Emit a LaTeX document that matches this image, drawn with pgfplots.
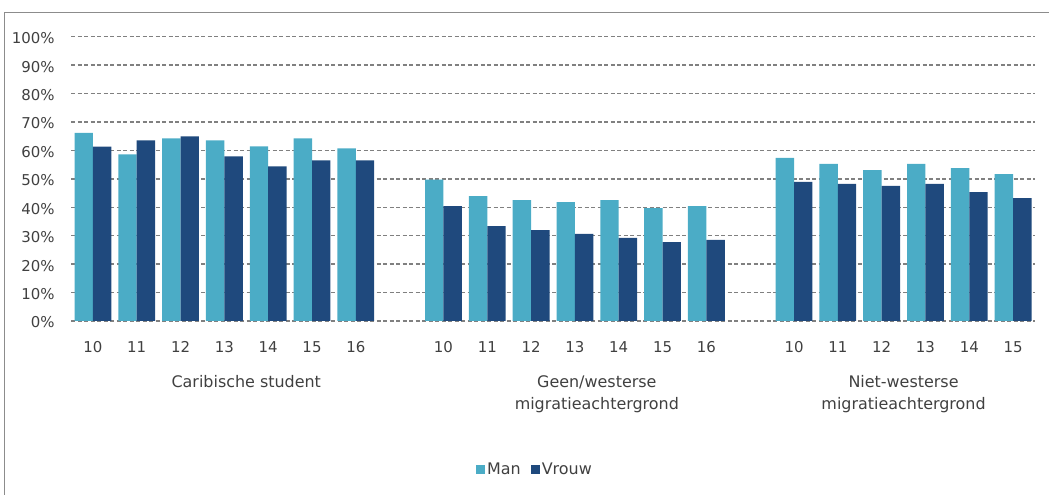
\documentclass[border=0pt]{standalone}
\usepackage{fontspec}
\setmainfont{DejaVu Sans}
\usepackage{pgfplots}
\pgfplotsset{compat=1.18}
\definecolor{manc}{HTML}{4BACC6}
\definecolor{vrouwc}{HTML}{1F497D}
\definecolor{gridc}{HTML}{808080}
\definecolor{txt}{HTML}{404040}
\definecolor{framec}{HTML}{8C8C8C}
\begin{document}
\begin{tikzpicture}[x=1bp,y=1bp]
\path[use as bounding box] (0,0) rectangle (1049,495);
\draw[framec, line width=1.5bp] (4.5,-5) -- (4.5,482.5) -- (1060,482.5);
\begin{axis}[
  at={(71bp,174bp)}, anchor=south west,
  scale only axis, width=964bp, height=284.3bp,
  xmin=-0.5, xmax=21.5, ymin=0, ymax=100,
  clip=false,
  axis line style={draw=none},
  major tick length=0pt,
  ytick={0,10,...,100},
  yticklabel={\pgfmathprintnumber{\tick}\%},
  /pgf/number format/assume math mode=true,
  ymajorgrids,
  grid style={gridc, dash pattern=on 4bp off 2.5bp, line width=1.4bp},
  xtick={0,1,2,3,4,5,6,8,9,10,11,12,13,14,16,17,18,19,20,21},
  xticklabels={10,11,12,13,14,15,16,10,11,12,13,14,15,16,10,11,12,13,14,15},
  tick label style={font=\fontsize{15}{18}\selectfont, text=txt},
  xticklabel style={anchor=base, yshift=-31.7bp},
  yticklabel style={anchor=east, xshift=-13bp, yshift=-1.5bp},
  ybar, bar width=0.42,
  legend image code/.code={\fill[#1] (0bp,-4.5bp) rectangle (9bp,4.5bp);},
  legend style={at={(0.4813,-0.5223)}, anchor=center, draw=none, fill=none,
    legend columns=2, font=\fontsize{16}{19}\selectfont, text=txt,
    /tikz/every even column/.append style={column sep=8bp}},
]
\addplot[fill=manc, draw=none, bar shift=-0.21] coordinates {
 (0,66.2) (1,58.6) (2,64.2) (3,63.5) (4,61.4) (5,64.2) (6,60.7)
 (8,49.7) (9,43.9) (10,42.5) (11,41.8) (12,42.5) (13,39.7) (14,40.4)
 (16,57.4) (17,55.3) (18,53.1) (19,55.3) (20,53.8) (21,51.7)};
\addplot[fill=vrouwc, draw=none, bar shift=0.21] coordinates {
 (0,61.3) (1,63.5) (2,64.9) (3,57.9) (4,54.4) (5,56.5) (6,56.5)
 (8,40.4) (9,33.4) (10,32.0) (11,30.6) (12,29.2) (13,27.7) (14,28.5)
 (16,48.9) (17,48.2) (18,47.5) (19,48.2) (20,45.3) (21,43.2)};
\legend{Man,Vrouw}
\begin{scope}[every node/.style={font=\fontsize{16}{19}\selectfont, text=txt, anchor=base}]
\node at (axis cs:3.5,0) [yshift=-67bp] {Caribische student};
\node at (axis cs:11.5,0) [yshift=-67bp] {Geen/westerse};
\node at (axis cs:11.5,0) [yshift=-88.5bp] {migratieachtergrond};
\node at (axis cs:18.5,0) [yshift=-67bp] {Niet-westerse};
\node at (axis cs:18.5,0) [yshift=-88.5bp] {migratieachtergrond};
\end{scope}
\end{axis}
\end{tikzpicture}
\end{document}
